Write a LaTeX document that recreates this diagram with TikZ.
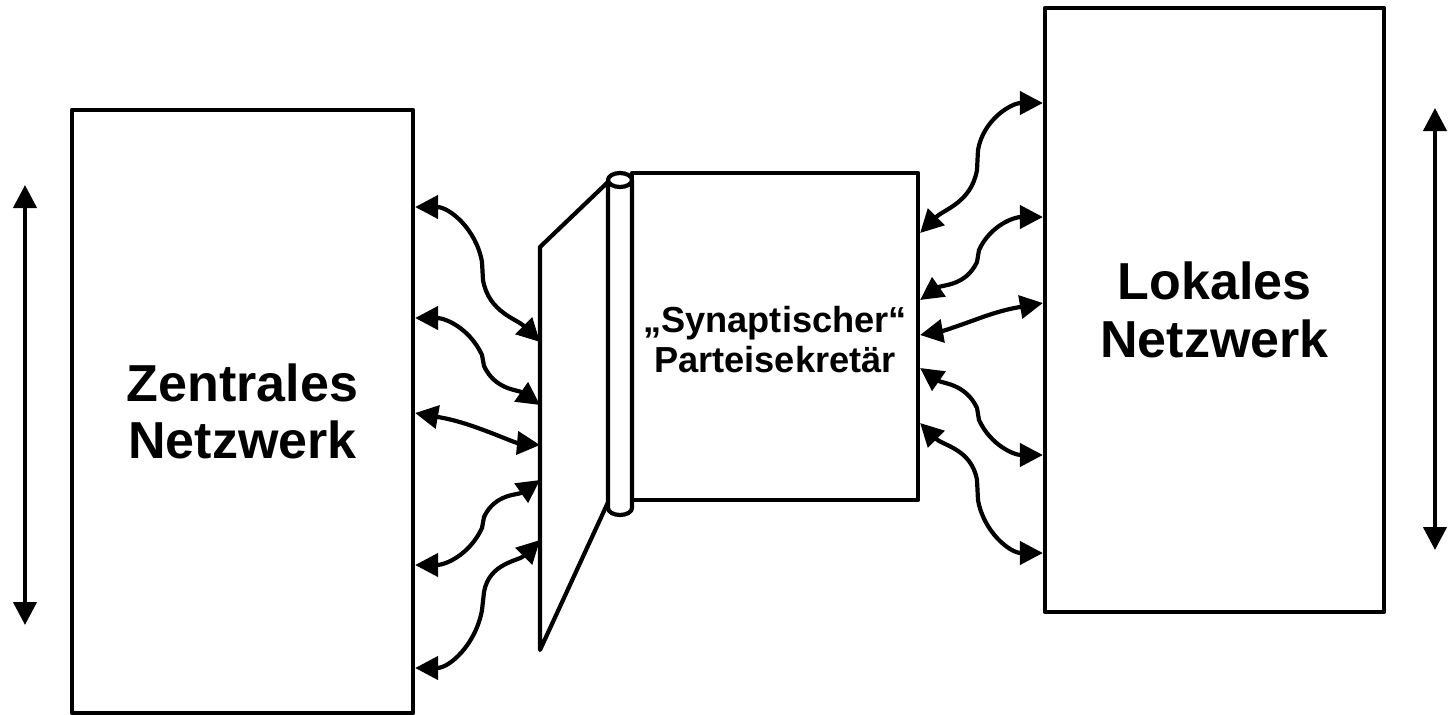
\documentclass[tikz,border=0pt]{standalone}
\usepackage{fontspec}
\setmainfont{Liberation Sans}
\usetikzlibrary{arrows.meta}

\tikzset{
  netbox/.style={draw, line width=0.42mm, inner sep=0pt, align=center,
    font=\fontsize{14.8}{16.4}\selectfont\bfseries},
  link/.style={line width=0.42mm, {Triangle[length=2.3mm,width=2.3mm]}-{Triangle[length=2.3mm,width=2.3mm]}},
}

\begin{document}
\begin{tikzpicture}[x=0.1mm, y=-0.1mm, line join=round]
    \useasboundingbox (0,0) rectangle (1450,715);

    % the two networks
    \node[netbox, minimum width=34.1mm, minimum height=60.3mm] (zn) at (242.5,411.5) {Zentrales\\Netzwerk};
    \node[netbox, minimum width=33.9mm, minimum height=60.4mm] (ln) at (1214.5,310) {Lokales\\Netzwerk};

    % secretary: box, roll and leaf
    \node[netbox, minimum width=28.6mm, minimum height=32.7mm, text depth=0pt,
      font=\fontsize{10.3}{11.4}\selectfont\bfseries] (sp) at (775,336.5) {\raisebox{-0.6mm}{„Synaptischer“}\\\raisebox{-0.6mm}{Parteisekretär}};
    \draw[line width=0.42mm] (608,182) -- (540,247) -- (540,650) -- (610,498);
    \draw[line width=0.42mm, fill=white] (608,180) -- (608,508) arc[start angle=180, end angle=360, x radius=12, y radius=-7]
      -- (632,180);
    \draw[line width=0.42mm, fill=white] (620,180) ellipse[x radius=12, y radius=7];

    % end points on the boxes
    \coordinate (z1) at (zn.east |- 0,207);
    \coordinate (z2) at (zn.east |- 0,318);
    \coordinate (z3) at (zn.east |- 0,413);
    \coordinate (z4) at (zn.east |- 0,565);
    \coordinate (z5) at (zn.east |- 0,668);
    \coordinate (p1) at (540,342);
    \coordinate (p2) at (540,405);
    \coordinate (p3) at (540,445);
    \coordinate (p4) at (540,480);
    \coordinate (p5) at (540,540);
    \coordinate (s1) at (sp.east |- 0,233);
    \coordinate (s2) at (sp.east |- 0,300);
    \coordinate (s3) at (sp.east |- 0,335);
    \coordinate (s4) at (sp.east |- 0,368);
    \coordinate (s5) at (sp.east |- 0,423);
    \coordinate (l1) at (ln.west |- 0,103);
    \coordinate (l2) at (ln.west |- 0,217);
    \coordinate (l3) at (ln.west |- 0,303);
    \coordinate (l4) at (ln.west |- 0,455);
    \coordinate (l5) at (ln.west |- 0,553);

    % synapses, left side
    \draw[link] (z1) to[out=0,in=100] (482,262) -- (483,280) to[out=-80,in=135] (p1);
    \draw[link] (z2) to[out=0,in=115] (482,355) -- (484,366) to[out=-65,in=145] (p2);
    \draw[link] (z3) to[out=-10,in=160] (478,428) to[out=-20,in=175] (p3);
    \draw[link] (z4) to[out=0,in=-115] (482,528) -- (484,517) to[out=65,in=-145] (p4);
    \draw[link] (z5) to[out=0,in=-100] (482,610) -- (484,592) to[out=80,in=-135] (p5);

    % synapses, right side
    \draw[link] (s1) to[out=45,in=-100] (977,170) -- (978,150) to[out=80,in=180] (l1);
    \draw[link] (s2) to[out=35,in=-115] (977,262) -- (979,250) to[out=65,in=180] (l2);
    \draw[link] (s3) to[out=10,in=-160] (980,318) to[out=20,in=190] (l3);
    \draw[link] (s4) to[out=-35,in=115] (977,408) -- (979,420) to[out=-65,in=180] (l4);
    \draw[link] (s5) to[out=-45,in=100] (977,480) -- (978,500) to[out=-80,in=180] (l5);

    % outer arrows
    \coordinate (zt) at (25,185);
    \coordinate (zb) at (25,625);
    \coordinate (lt) at (1435,108);
    \coordinate (lb) at (1435,550);
    \draw[link] (zt) -- (zb);
    \draw[link] (lt) -- (lb);

\end{tikzpicture}
\end{document}
